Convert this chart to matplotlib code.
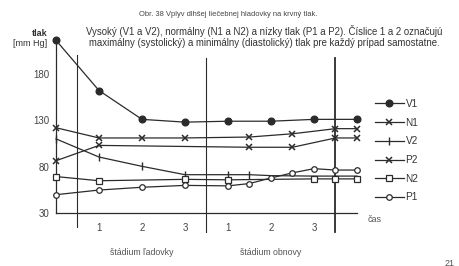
import matplotlib
matplotlib.use("Agg")
import matplotlib.pyplot as plt

plt.rcParams['font.family'] = ['Liberation Sans', 'DejaVu Sans']

# ---- data ----
x_V1 = [0, 1, 2, 3, 4, 5, 6, 7]
V1 = [216, 162, 131, 128, 129, 129, 131, 131]

x_N1 = [0, 1, 2, 3, 4.5, 5.5, 6.5, 7]
N1 = [122, 111, 111, 111, 112, 115.5, 121, 121]

x_V2 = [0, 1, 2, 3, 4, 4.5, 5, 6, 7]
V2 = [110, 90.5, 80.5, 71.5, 71.5, 71.5, 70.5, 70, 70]
V2_marks = [0, 1, 2, 3, 4, 5]

x_P2 = [0, 1, 4.5, 5.5, 6.5, 7]
P2 = [86.5, 103, 101, 101, 111, 111]

x_N2 = [0, 1, 3, 4, 6, 6.5, 7]
N2 = [69.5, 65, 66.5, 66, 67, 67, 67]

x_P1 = [0, 1, 2, 3, 4, 4.5, 5, 5.5, 6, 6.5, 7]
P1 = [50, 55, 58, 60, 59.5, 62, 68, 73.5, 78, 76.5, 76.5]

y_ticks = [30, 80, 130, 180]
x_ticks = [1, 2, 3, 4, 5, 6]
x_ticklabels = ["1", "2", "3", "1", "2", "3"]
stage_pos = [0.5, 3.5, 6.5]
stage_labels = ["štádium ľadovky", "štádium obnovy"]
stage_label_x = [2, 5]

title1 = "Obr. 38 Vplyv dlhšej liečebnej hladovky na krvný tlak."
title2 = "Vysoký (V1 a V2), normálny (N1 a N2) a nízky tlak (P1 a P2). Číslice 1 a 2 označujú"
title3 = "maximálny (systolický) a minimálny (diastolický) tlak pre každý prípad samostatne."

# ---- figure ----
W, H = 460, 266
fig = plt.figure(figsize=(W / 100, H / 100), dpi=100)
fig.patch.set_facecolor("white")

ax_l, ax_r, ax_b, ax_t = 56, 357, 213.3, 40.3
ax = fig.add_axes([ax_l / W, 1 - ax_b / H, (ax_r - ax_l) / W, (ax_b - ax_t) / H])
ax.set_xlim(0, 7)
ax.set_ylim(30, 216)
ax.patch.set_alpha(0)

c = "#2b2b2b"
lw = 0.9
common = dict(color=c, lw=lw, clip_on=False, zorder=3)

ax.plot(x_V1, V1, marker="o", ms=4.8, mfc=c, mec=c, label="V1", **common)
ax.plot(x_N1, N1, marker="x", ms=4.5, mew=1.1, label="N1", **common)
ax.plot(x_V2, V2, marker="|", ms=6, mew=1.0, markevery=V2_marks, label="V2", **common)
ax.plot(x_P2, P2, marker="x", ms=4.5, mew=1.1, label="P2", **common)
ax.plot(x_N2, N2, marker="s", ms=4.2, mfc="white", mew=0.9, mec=c, label="N2", **common)
ax.plot(x_P1, P1, marker="o", ms=4.0, mfc="white", mew=0.9, mec=c, label="P1", **common)

for s in ["top", "right"]:
    ax.spines[s].set_visible(False)
for s in ["left", "bottom"]:
    ax.spines[s].set_color(c)
    ax.spines[s].set_linewidth(0.9)

ax.set_yticks(y_ticks)
ax.set_yticklabels([str(v) for v in y_ticks])
ax.set_xticks(x_ticks)
ax.set_xticklabels(x_ticklabels)
ax.tick_params(axis="y", length=0, pad=5, labelsize=7, colors="#444444")
ax.tick_params(axis="x", length=0, pad=7, labelsize=7, colors="#444444")

# stage dividers
div_ranges = [(15, 200), (10, 197), (10, 197)]
div_lw = [0.8, 0.8, 1.3]
for xp, (y0, y1), w in zip(stage_pos, div_ranges, div_lw):
    ax.plot([xp, xp], [y0, y1], color=c, lw=w, clip_on=False, zorder=2)

for lab, xp in zip(stage_labels, stage_label_x):
    ax.text(xp, 30 - 39 / 0.93, lab, ha="center", va="center", fontsize=6.3, color="#555555")

fig.text(375 / W, 1 - 220 / H, "čas", ha="center", va="center", fontsize=6.5, color="#555555")
fig.text(47 / W, 1 - 33 / H, "tlak", ha="right", va="center", fontsize=6.5,
         fontweight="bold", color="#333333")
fig.text(47 / W, 1 - 44 / H, "[mm Hg]", ha="right", va="center", fontsize=6.5, color="#333333")

fig.text(228 / W, 1 - 15 / H, title1, ha="center", va="center", fontsize=5.4, color="#444444")
fig.text(264 / W, 1 - 31 / H, title2, ha="center", va="center", fontsize=6.95, color="#333333")
fig.text(264 / W, 1 - 43 / H, title3, ha="center", va="center", fontsize=6.95, color="#333333")

fig.text(450 / W, 1 - 263 / H, "21", ha="center", va="center", fontsize=6.5, color="#555555")

leg = fig.legend(loc="upper left", bbox_to_anchor=(370 / W, 1 - 94 / H), frameon=False,
                 fontsize=7.2, handlelength=2.9, handletextpad=0.15, labelspacing=0.87,
                 borderpad=0, numpoints=1)
for t in leg.get_texts():
    t.set_color("#333333")

fig.savefig("out.png", dpi=100, facecolor="white")
